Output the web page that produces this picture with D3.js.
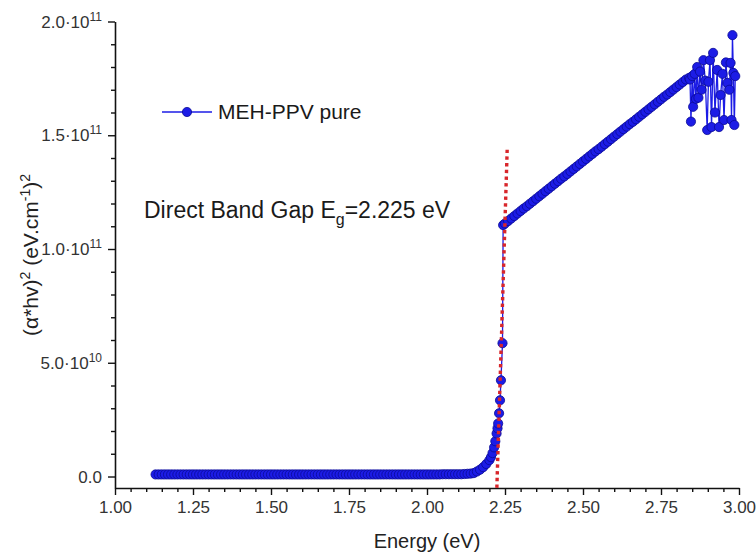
<!DOCTYPE html>
<html>
<head>
<meta charset="utf-8">
<script src="https://cdn.jsdelivr.net/npm/d3@7/dist/d3.min.js"></script>
<style>
  html, body { margin: 0; padding: 0; background: #fff; }
  svg { display: block; font-family: "Liberation Sans", Arial, sans-serif; }
</style>
</head>
<body>
<svg id="chart" width="756" height="553"></svg>
<script>
// (αhν)² in units of 1e11 (eV·cm⁻¹)², photon energy in eV.

// Below the absorption edge: flat baseline
const baseEnergy = [
  1.13, 1.14, 1.15, 1.16, 1.17, 1.18, 1.19, 1.20, 1.21, 1.22,
  1.23, 1.24, 1.25, 1.26, 1.27, 1.28, 1.29, 1.30, 1.31, 1.32,
  1.33, 1.34, 1.35, 1.36, 1.37, 1.38, 1.39, 1.40, 1.41, 1.42,
  1.43, 1.44, 1.45, 1.46, 1.47, 1.48, 1.49, 1.50, 1.51, 1.52,
  1.53, 1.54, 1.55, 1.56, 1.57, 1.58, 1.59, 1.60, 1.61, 1.62,
  1.63, 1.64, 1.65, 1.66, 1.67, 1.68, 1.69, 1.70, 1.71, 1.72,
  1.73, 1.74, 1.75, 1.76, 1.77, 1.78, 1.79, 1.80, 1.81, 1.82,
  1.83, 1.84, 1.85, 1.86, 1.87, 1.88, 1.89, 1.90, 1.91, 1.92,
  1.93, 1.94, 1.95, 1.96, 1.97, 1.98, 1.99, 2.00, 2.01, 2.02,
  2.03, 2.04, 2.05, 2.06, 2.07, 2.08, 2.09
];
const baseValue = [
  0.009, 0.009, 0.009, 0.009, 0.009, 0.009, 0.009, 0.009, 0.009, 0.009,
  0.009, 0.009, 0.009, 0.009, 0.009, 0.009, 0.009, 0.009, 0.009, 0.009,
  0.009, 0.009, 0.009, 0.009, 0.009, 0.009, 0.009, 0.009, 0.009, 0.009,
  0.009, 0.009, 0.009, 0.009, 0.009, 0.009, 0.009, 0.009, 0.009, 0.009,
  0.009, 0.009, 0.009, 0.009, 0.009, 0.009, 0.009, 0.009, 0.009, 0.009,
  0.009, 0.009, 0.009, 0.009, 0.009, 0.009, 0.009, 0.009, 0.009, 0.009,
  0.009, 0.009, 0.009, 0.009, 0.009, 0.009, 0.009, 0.009, 0.009, 0.009,
  0.009, 0.009, 0.009, 0.009, 0.009, 0.009, 0.009, 0.009, 0.009, 0.009,
  0.009, 0.009, 0.009, 0.009, 0.009, 0.009, 0.009, 0.009, 0.009, 0.009,
  0.009, 0.009, 0.010, 0.010, 0.010, 0.010, 0.010
];

// Absorption edge
const edgeEnergy = [
  2.10, 2.11, 2.12, 2.13, 2.14, 2.15, 2.16, 2.17, 2.18, 2.19,
  2.20, 2.205, 2.21, 2.215, 2.219, 2.223, 2.226, 2.228, 2.231, 2.234,
  2.237, 2.242
];
const edgeValue = [
  0.010, 0.010, 0.011, 0.012, 0.013, 0.015, 0.022, 0.030, 0.041, 0.055,
  0.072, 0.085, 0.103, 0.128, 0.155, 0.189, 0.212, 0.233, 0.278, 0.335,
  0.423, 0.586
];

// Above the gap: rising branch
const bandEnergy = [
  2.244, 2.25, 2.26, 2.27, 2.28, 2.29, 2.30, 2.31, 2.32, 2.33,
  2.34, 2.35, 2.36, 2.37, 2.38, 2.39, 2.40, 2.41, 2.42, 2.43,
  2.44, 2.45, 2.46, 2.47, 2.48, 2.49, 2.50, 2.51, 2.52, 2.53,
  2.54, 2.55, 2.56, 2.57, 2.58, 2.59, 2.60, 2.61, 2.62, 2.63,
  2.64, 2.65, 2.66, 2.67, 2.68, 2.69, 2.70, 2.71, 2.72, 2.73,
  2.74, 2.75, 2.76, 2.77, 2.78, 2.79, 2.80, 2.81, 2.82, 2.83,
  2.84
];
const bandValue = [
  1.105, 1.112, 1.123, 1.134, 1.145, 1.156, 1.167, 1.178, 1.188, 1.199,
  1.210, 1.221, 1.232, 1.243, 1.254, 1.265, 1.276, 1.287, 1.298, 1.309,
  1.319, 1.330, 1.341, 1.352, 1.363, 1.374, 1.385, 1.396, 1.407, 1.418,
  1.429, 1.439, 1.450, 1.461, 1.472, 1.483, 1.494, 1.505, 1.516, 1.527,
  1.538, 1.549, 1.559, 1.570, 1.581, 1.592, 1.603, 1.614, 1.625, 1.636,
  1.647, 1.658, 1.669, 1.679, 1.690, 1.701, 1.712, 1.723, 1.734, 1.745,
  1.752
];

// High-energy end (noisy)
const noiseEnergy = [
  2.843, 2.846, 2.850, 2.853, 2.858, 2.862, 2.866, 2.870, 2.875, 2.880,
  2.886, 2.892, 2.898, 2.902, 2.907, 2.912, 2.917, 2.923, 2.930, 2.936,
  2.941, 2.947, 2.952, 2.958, 2.963, 2.969, 2.973, 2.976, 2.979, 2.982,
  2.985, 2.988
];
const noiseValue = [
  1.745, 1.560, 1.760, 1.625, 1.770, 1.660, 1.800, 1.665, 1.780, 1.700,
  1.830, 1.740, 1.523, 1.735, 1.830, 1.536, 1.862, 1.600, 1.787, 1.536,
  1.677, 1.770, 1.567, 1.820, 1.730, 1.700, 1.818, 1.567, 1.940, 1.774,
  1.545, 1.760
];

// Linear fit of the edge: its zero crossing gives the gap
const gapEnergy = 2.225;
const fitSlope = 44.9;          // 1e11 units per eV
const fitValueRange = [-0.05, 1.436];

// Axes
const xMajor = [1.00, 1.25, 1.50, 1.75, 2.00, 2.25, 2.50, 2.75, 3.00];
const xTickLabels = ["1.00", "1.25", "1.50", "1.75", "2.00", "2.25", "2.50", "2.75", "3.00"];
const yMajor = [0, 0.5, 1.0, 1.5, 2.0];
const yTickMantissa = ["0.0", "5.0", "1.0", "1.5", "2.0"];
const yTickExponent = ["", "10", "11", "11", "11"];

const seriesName = "MEH-PPV pure";

const fontFam = '"Liberation Sans", Arial, sans-serif';
const svg = d3.select("#chart");

const x = d3.scaleLinear().domain([1, 3]).range([115, 739]);
const y = d3.scaleLinear().domain([-0.0505, 2.0]).range([488, 21.5]);

const energy = baseEnergy.concat(edgeEnergy, bandEnergy, noiseEnergy);
const value = baseValue.concat(edgeValue, bandValue, noiseValue);
const data = energy.map((e, i) => ({ e, v: value[i] }));

// Minor ticks
const xMinor = d3.range(1, 3.0001, 0.05).map(d => +d.toFixed(2)).filter(d => !xMajor.some(m => Math.abs(m - d) < 1e-6));
const yMinor = d3.range(0, 2.0001, 0.1).map(d => +d.toFixed(2)).filter(d => !yMajor.some(m => Math.abs(m - d) < 1e-6));

const axisColor = "#111";

// X axis
const gx = svg.append("g").attr("transform", "translate(0,488)");
gx.call(d3.axisBottom(x).tickValues(xMajor).tickFormat((d, i) => xTickLabels[i]).tickSize(7).tickSizeOuter(0).tickPadding(6));
gx.append("g").call(d3.axisBottom(x).tickValues(xMinor).tickFormat("").tickSize(4).tickSizeOuter(0))
  .select(".domain").remove();
gx.selectAll("path.domain").attr("stroke", axisColor).attr("stroke-width", 1.6);
gx.selectAll("line").attr("stroke", axisColor).attr("stroke-width", 1.4);
gx.selectAll("text").attr("font-family", fontFam).attr("font-size", 17).attr("fill", "#333");

// Y axis
const gy = svg.append("g").attr("transform", "translate(115,0)");
gy.call(d3.axisLeft(y).tickValues(yMajor).tickFormat("").tickSize(7).tickSizeOuter(0));
gy.append("g").call(d3.axisLeft(y).tickValues(yMinor).tickFormat("").tickSize(4).tickSizeOuter(0))
  .select(".domain").remove();
gy.selectAll("path.domain").attr("stroke", axisColor).attr("stroke-width", 1.6);
gy.selectAll("line").attr("stroke", axisColor).attr("stroke-width", 1.4);

// Y tick labels with powers of ten
yMajor.forEach((d, i) => {
  const t = svg.append("text")
    .attr("x", 102).attr("y", y(d) + 6)
    .attr("text-anchor", "end")
    .attr("font-family", fontFam).attr("font-size", 17).attr("fill", "#333");
  if (yTickExponent[i]) {
    t.append("tspan").text(yTickMantissa[i] + "\u00B710");
    t.append("tspan").attr("font-size", 12).attr("dy", -7).text(yTickExponent[i]);
  } else {
    t.append("tspan").text(yTickMantissa[i]);
  }
});

// Axis titles
svg.append("text")
  .attr("x", x(2.0)).attr("y", 548)
  .attr("text-anchor", "middle")
  .attr("font-family", fontFam).attr("font-size", 20).attr("fill", "#222")
  .text("Energy (eV)");

const yTitle = svg.append("text")
  .attr("transform", "translate(38,255) rotate(-90)")
  .attr("text-anchor", "middle")
  .attr("font-family", fontFam).attr("font-size", 21).attr("fill", "#222");
yTitle.append("tspan").text("(\u03B1*hv)");
yTitle.append("tspan").attr("font-size", 14).attr("dy", -8).text("2");
yTitle.append("tspan").attr("dy", 8).text(" (eV.cm");
yTitle.append("tspan").attr("font-size", 14).attr("dy", -8).text("-1");
yTitle.append("tspan").attr("dy", 8).text(")");
yTitle.append("tspan").attr("font-size", 14).attr("dy", -8).text("2");

// Data series
const blue = "#1c1ce6";
const line = d3.line().x(d => x(d.e)).y(d => y(d.v));
svg.append("path")
  .datum(data)
  .attr("d", line)
  .attr("fill", "none")
  .attr("stroke", blue)
  .attr("stroke-width", 1.3);

svg.append("g").selectAll("circle")
  .data(data)
  .join("circle")
  .attr("cx", d => x(d.e))
  .attr("cy", d => y(d.v))
  .attr("r", 4.6)
  .attr("fill", blue)
  .attr("stroke", "#0a0a96")
  .attr("stroke-width", 0.8);

// Linear fit of the absorption edge
const fitPoints = fitValueRange.map(v => ({ e: gapEnergy + v / fitSlope, v }));
svg.append("path")
  .datum(fitPoints)
  .attr("d", line)
  .attr("fill", "none")
  .attr("stroke", "#d8262b")
  .attr("stroke-width", 3.4)
  .attr("stroke-dasharray", "3.4,3.3");

// Legend
const lg = svg.append("g");
lg.append("line").attr("x1", 162).attr("x2", 212).attr("y1", 112).attr("y2", 112)
  .attr("stroke", blue).attr("stroke-width", 1.6);
lg.append("circle").attr("cx", 187).attr("cy", 112).attr("r", 4.6)
  .attr("fill", blue).attr("stroke", "#0a0a96").attr("stroke-width", 0.8);
lg.append("text").attr("x", 218).attr("y", 119)
  .attr("font-family", fontFam).attr("font-size", 21).attr("fill", "#1a1a1a")
  .text(seriesName);

// Band gap annotation
const ann = svg.append("text")
  .attr("x", 144).attr("y", 218)
  .attr("font-family", fontFam).attr("font-size", 23).attr("fill", "#1a1a1a");
ann.append("tspan").text("Direct Band Gap E");
ann.append("tspan").attr("font-size", 16).attr("dy", 7).text("g");
ann.append("tspan").attr("dy", -7).text("=" + gapEnergy.toFixed(3) + " eV");
</script>
</body>
</html>
